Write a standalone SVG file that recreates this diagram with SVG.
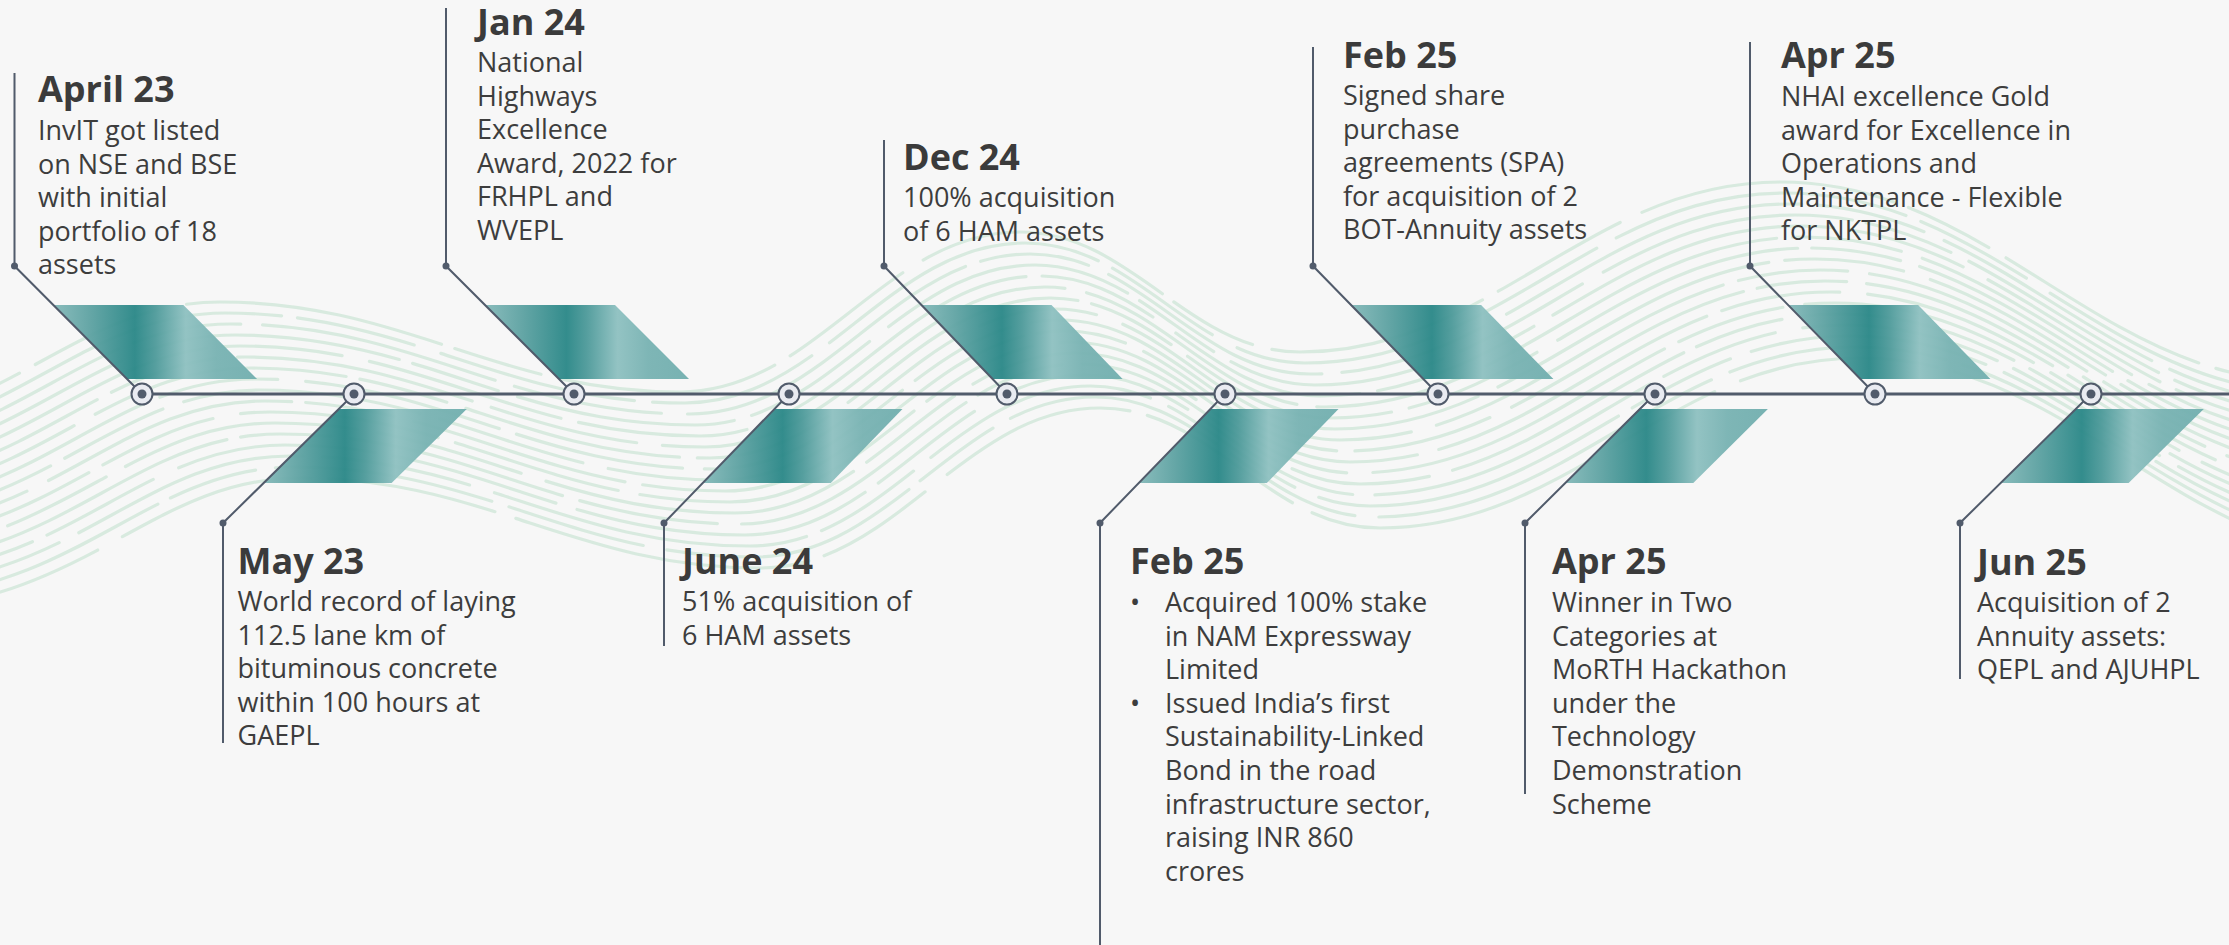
<svg xmlns="http://www.w3.org/2000/svg" xmlns:xlink="http://www.w3.org/1999/xlink" width="2229" height="945" viewBox="0 0 2229 945">
<style>
.wave{fill:none;stroke:#d8eadf;stroke-width:3.2;stroke-linecap:round}
.wa{stroke-dasharray:220 18 140 24 260 14 90 20}
.wb{stroke-dasharray:170 22 300 16 120 28 200 18}
.wc{stroke-dasharray:320 16 110 22 240 20 150 26}
.para{fill:url(#teal);opacity:0.96}
.conn{fill:none;stroke:#515b6b;stroke-width:2}
.tl{fill:none;stroke:#515b6b;stroke-width:3}
.ring{fill:#e9ebf1;stroke:#515b6b;stroke-width:2}
.dot{fill:#515b6b}
.title{font-family:"Open Sans","Liberation Sans",sans-serif;font-weight:700;font-size:36px;fill:#3b3b3b}
.body{font-family:"Open Sans","Liberation Sans",sans-serif;font-size:27px;fill:#3d3d3d}
</style>
<defs>
<linearGradient id="teal" x1="0" y1="0" x2="1" y2="0">
<stop offset="0" stop-color="#86baba"/>
<stop offset="0.18" stop-color="#5fa3a3"/>
<stop offset="0.4" stop-color="#2b8888"/>
<stop offset="0.5" stop-color="#4f9b9b"/>
<stop offset="0.65" stop-color="#8fc1c1"/>
<stop offset="0.8" stop-color="#79b3b3"/>
<stop offset="1" stop-color="#72afaf"/>
</linearGradient>
<path id="wv" d="M-150,520 C42,520 110,390 260,390 C444,390 536,480 720,480 C856,480 924,320 1060,320 C1172,320 1228,440 1340,440 C1532,440 1628,270 1820,270 C2032,270 2138,470 2350,470"/>
</defs>
<rect width="2229" height="945" fill="#f7f7f7"/>
<g id="waves" class="wave">
<use xlink:href="#wv" href="#wv" class="wa" transform="translate(-40,-88)"/>
<use xlink:href="#wv" href="#wv" class="wb" transform="translate(-35,-77)"/>
<use xlink:href="#wv" href="#wv" class="wc" transform="translate(-30,-66)"/>
<use xlink:href="#wv" href="#wv" class="wa" transform="translate(-25,-55)" stroke-dashoffset="60"/>
<use xlink:href="#wv" href="#wv" class="wb" transform="translate(-20,-44)" stroke-dashoffset="90"/>
<use xlink:href="#wv" href="#wv" class="wc" transform="translate(-15,-33)" stroke-dashoffset="40"/>
<use xlink:href="#wv" href="#wv" class="wa" transform="translate(-10,-22)" stroke-dashoffset="130"/>
<use xlink:href="#wv" href="#wv" class="wb" transform="translate(-5,-11)" stroke-dashoffset="170"/>
<use xlink:href="#wv" href="#wv" class="wc" transform="translate(0,0)" stroke-dashoffset="110"/>
<use xlink:href="#wv" href="#wv" class="wa" transform="translate(5,11)" stroke-dashoffset="200"/>
<use xlink:href="#wv" href="#wv" class="wb" transform="translate(10,22)" stroke-dashoffset="250"/>
<use xlink:href="#wv" href="#wv" class="wc" transform="translate(15,33)" stroke-dashoffset="190"/>
<use xlink:href="#wv" href="#wv" class="wa" transform="translate(20,44)" stroke-dashoffset="280"/>
<use xlink:href="#wv" href="#wv" class="wb" transform="translate(25,55)" stroke-dashoffset="330"/>
<use xlink:href="#wv" href="#wv" class="wc" transform="translate(30,66)" stroke-dashoffset="260"/>
<use xlink:href="#wv" href="#wv" class="wa" transform="translate(35,77)" stroke-dashoffset="370"/>
<use xlink:href="#wv" href="#wv" class="wb" transform="translate(40,88)" stroke-dashoffset="410"/>
</g>
<g id="flags">
<polygon class="para" points="53.4,305 183.4,305 257.1,379 127.1,379"/>
<polygon class="para" points="485,305 615,305 689,379 559,379"/>
<polygon class="para" points="921.5,305 1051.5,305 1122.6,379 992.6,379"/>
<polygon class="para" points="1351.1,305 1481.1,305 1553.4,379 1423.4,379"/>
<polygon class="para" points="1788.1,305 1918.1,305 1990.4,379 1860.4,379"/>
<polygon class="para" points="338.8,409 466.8,409 391.6,483 263.6,483"/>
<polygon class="para" points="774.5,409 902.5,409 830.8,483 702.8,483"/>
<polygon class="para" points="1210.5,409 1338.5,409 1266.8,483 1138.8,483"/>
<polygon class="para" points="1639.9,409 1767.9,409 1693.3,483 1565.3,483"/>
<polygon class="para" points="2075.8,409 2203.8,409 2128.6,483 2000.6,483"/>
</g>
<g id="connectors">
<path class="tl" d="M142,394 H2229"/>
<path class="conn" d="M14.5,73 V266 L142,394"/>
<path class="conn" d="M446,8 V266 L574,394"/>
<path class="conn" d="M884,140 V266 L1007,394"/>
<path class="conn" d="M1313,47 V266 L1438,394"/>
<path class="conn" d="M1750,42 V266 L1875,394"/>
<path class="conn" d="M354,394 L223,523 V743"/>
<path class="conn" d="M789,394 L664,523 V646"/>
<path class="conn" d="M1225,394 L1100,523 V945"/>
<path class="conn" d="M1655,394 L1525,523 V794"/>
<path class="conn" d="M2091,394 L1960,523 V679"/>
</g>
<g id="ev-apr23">
<circle class="ring" cx="142" cy="394" r="10.5"/><circle class="dot" cx="142" cy="394" r="4.5"/>
<circle class="dot" cx="14.5" cy="266" r="3.5"/>
<text class="title" x="38" y="102">April 23</text>
<text class="body" x="38" y="140">InvIT got listed<tspan x="38" dy="33.6">on NSE and BSE</tspan><tspan x="38" dy="33.6">with initial</tspan><tspan x="38" dy="33.6">portfolio of 18</tspan><tspan x="38" dy="33.6">assets</tspan></text>
</g>
<g id="ev-may23">
<circle class="ring" cx="354" cy="394" r="10.5"/><circle class="dot" cx="354" cy="394" r="4.5"/>
<circle class="dot" cx="223" cy="523" r="3.5"/>
<text class="title" x="237.5" y="574">May 23</text>
<text class="body" x="237.5" y="611">World record of laying<tspan x="237.5" dy="33.6">112.5 lane km of</tspan><tspan x="237.5" dy="33.6">bituminous concrete</tspan><tspan x="237.5" dy="33.6">within 100 hours at</tspan><tspan x="237.5" dy="33.6">GAEPL</tspan></text>
</g>
<g id="ev-jan24">
<circle class="ring" cx="574" cy="394" r="10.5"/><circle class="dot" cx="574" cy="394" r="4.5"/>
<circle class="dot" cx="446" cy="266" r="3.5"/>
<text class="title" x="477" y="35">Jan 24</text>
<text class="body" x="477" y="72">National<tspan x="477" dy="33.6">Highways</tspan><tspan x="477" dy="33.6">Excellence</tspan><tspan x="477" dy="33.6">Award, 2022 for</tspan><tspan x="477" dy="33.6">FRHPL and</tspan><tspan x="477" dy="33.6">WVEPL</tspan></text>
</g>
<g id="ev-jun24">
<circle class="ring" cx="789" cy="394" r="10.5"/><circle class="dot" cx="789" cy="394" r="4.5"/>
<circle class="dot" cx="664" cy="523" r="3.5"/>
<text class="title" x="682" y="574">June 24</text>
<text class="body" x="682" y="611">51% acquisition of<tspan x="682" dy="33.6">6 HAM assets</tspan></text>
</g>
<g id="ev-dec24">
<circle class="ring" cx="1007" cy="394" r="10.5"/><circle class="dot" cx="1007" cy="394" r="4.5"/>
<circle class="dot" cx="884" cy="266" r="3.5"/>
<text class="title" x="903" y="170">Dec 24</text>
<text class="body" x="903" y="207">100% acquisition<tspan x="903" dy="33.6">of 6 HAM assets</tspan></text>
</g>
<g id="ev-feb25-b">
<circle class="ring" cx="1225" cy="394" r="10.5"/><circle class="dot" cx="1225" cy="394" r="4.5"/>
<circle class="dot" cx="1100" cy="523" r="3.5"/>
<text class="title" x="1130" y="574">Feb 25</text>
<text class="body" x="1130" y="612">•</text>
<text class="body" x="1130" y="712.8">•</text>
<text class="body" x="1165" y="612">Acquired 100% stake<tspan x="1165" dy="33.6">in NAM Expressway</tspan><tspan x="1165" dy="33.6">Limited</tspan><tspan x="1165" dy="33.6">Issued India’s first</tspan><tspan x="1165" dy="33.6">Sustainability-Linked</tspan><tspan x="1165" dy="33.6">Bond in the road</tspan><tspan x="1165" dy="33.6">infrastructure sector,</tspan><tspan x="1165" dy="33.6">raising INR 860</tspan><tspan x="1165" dy="33.6">crores</tspan></text>
</g>
<g id="ev-feb25-a">
<circle class="ring" cx="1438" cy="394" r="10.5"/><circle class="dot" cx="1438" cy="394" r="4.5"/>
<circle class="dot" cx="1313" cy="266" r="3.5"/>
<text class="title" x="1343" y="68">Feb 25</text>
<text class="body" x="1343" y="105">Signed share<tspan x="1343" dy="33.6">purchase</tspan><tspan x="1343" dy="33.6">agreements (SPA)</tspan><tspan x="1343" dy="33.6">for acquisition of 2</tspan><tspan x="1343" dy="33.6">BOT-Annuity assets</tspan></text>
</g>
<g id="ev-apr25-b">
<circle class="ring" cx="1655" cy="394" r="10.5"/><circle class="dot" cx="1655" cy="394" r="4.5"/>
<circle class="dot" cx="1525" cy="523" r="3.5"/>
<text class="title" x="1552" y="574">Apr 25</text>
<text class="body" x="1552" y="612">Winner in Two<tspan x="1552" dy="33.6">Categories at</tspan><tspan x="1552" dy="33.6">MoRTH Hackathon</tspan><tspan x="1552" dy="33.6">under the</tspan><tspan x="1552" dy="33.6">Technology</tspan><tspan x="1552" dy="33.6">Demonstration</tspan><tspan x="1552" dy="33.6">Scheme</tspan></text>
</g>
<g id="ev-apr25-a">
<circle class="ring" cx="1875" cy="394" r="10.5"/><circle class="dot" cx="1875" cy="394" r="4.5"/>
<circle class="dot" cx="1750" cy="266" r="3.5"/>
<text class="title" x="1781" y="68">Apr 25</text>
<text class="body" x="1781" y="106">NHAI excellence Gold<tspan x="1781" dy="33.6">award for Excellence in</tspan><tspan x="1781" dy="33.6">Operations and</tspan><tspan x="1781" dy="33.6">Maintenance - Flexible</tspan><tspan x="1781" dy="33.6">for NKTPL</tspan></text>
</g>
<g id="ev-jun25">
<circle class="ring" cx="2091" cy="394" r="10.5"/><circle class="dot" cx="2091" cy="394" r="4.5"/>
<circle class="dot" cx="1960" cy="523" r="3.5"/>
<text class="title" x="1977" y="575">Jun 25</text>
<text class="body" x="1977" y="612">Acquisition of 2<tspan x="1977" dy="33.6">Annuity assets:</tspan><tspan x="1977" dy="33.6">QEPL and AJUHPL</tspan></text>
</g>
</svg>
